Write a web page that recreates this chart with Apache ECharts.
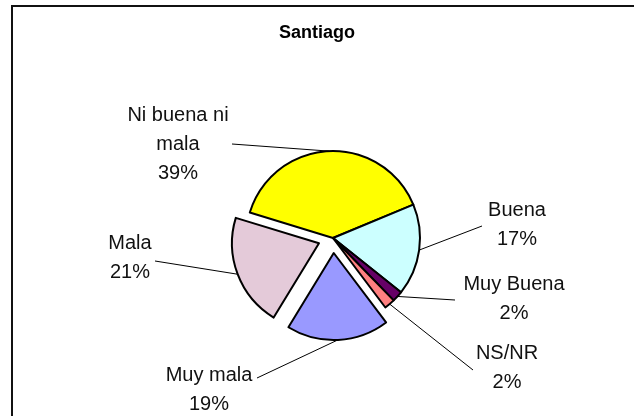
<!DOCTYPE html>
<html>
<head>
<meta charset="utf-8">
<script src="https://cdn.jsdelivr.net/npm/echarts@6/dist/echarts.min.js"></script>
<style>
  html, body { margin: 0; padding: 0; background: #fff; }
  #chart { width: 634px; height: 416px; }
</style>
</head>
<body>
<div id="chart"></div>
<script>
// data
const categories = ['Ni buena ni mala', 'Buena', 'Muy Buena', 'NS/NR', 'Muy mala', 'Mala']
const values = [39, 17, 2, 2, 19, 21]
const exploded = [false, false, false, false, true, true]

const colors = ['#FFFF00', '#CCFFFF', '#660066', '#FF8080', '#9999FF', '#E4CAD9']

// where Excel put each label and where its leader line ends
const labelSpots = [
  { x: 178, y: 144, line: [232, 144] },
  { x: 517, y: 225, line: [482, 226] },
  { x: 514, y: 299, line: [455, 300] },
  { x: 507, y: 368, line: [473, 370] },
  { x: 209, y: 390, line: [257, 378] },
  { x: 130, y: 258, line: [155, 261] }
]

const CX = 333
const CY = 238
const START = 163
const EXPLODE = 15

function wrapName(name) {
  if (name.length <= 12) return name
  const cut = name.lastIndexOf(' ', 11)
  return name.slice(0, cut) + '\n' + name.slice(cut + 1)
}

// centre of a pulled-out slice: shift along its middle angle
function shiftedCenter(idx) {
  const total = values.reduce((a, b) => a + b, 0)
  let before = 0
  for (let i = 0; i < idx; i++) before += values[i]
  const mid = (START - (before + values[idx] / 2) / total * 360) * Math.PI / 180
  return [CX + EXPLODE * Math.cos(mid), CY - EXPLODE * Math.sin(mid)]
}

// one pie per group: the unexploded slices together, each exploded slice on its own
function makePie(members, center) {
  return {
    type: 'pie',
    center: center,
    radius: 87,
    startAngle: START,
    clockwise: true,
    avoidLabelOverlap: false,
    emphasis: { disabled: true },
    label: {
      show: true,
      position: 'outside',
      fontFamily: 'Liberation Sans',
      fontSize: 20,
      lineHeight: 29,
      color: '#111',
      align: 'center',
      formatter: p => wrapName(p.name) + '\n' + p.value + '%'
    },
    labelLine: { show: true, lineStyle: { color: '#000', width: 1 } },
    labelLayout: p => {
      const s = labelSpots[p.dataIndex]
      const start = p.labelLinePoints ? p.labelLinePoints[0] : s.line
      return {
        x: s.x,
        y: s.y,
        align: 'center',
        verticalAlign: 'middle',
        labelLinePoints: [start, s.line]
      }
    },
    data: categories.map((name, i) => {
      const on = members.indexOf(i) >= 0
      return {
        name,
        value: values[i],
        itemStyle: on
          ? { color: colors[i], borderColor: '#000', borderWidth: 2 }
          : { color: 'rgba(0,0,0,0)', borderWidth: 0 },
        label: { show: on },
        labelLine: { show: on }
      }
    })
  }
}

const series = []
const still = []
values.forEach((v, i) => {
  if (!exploded[i]) still.push(i)
})
series.push(makePie(still, [CX, CY]))
values.forEach((v, i) => {
  if (exploded[i]) series.push(makePie([i], shiftedCenter(i)))
})

const chart = echarts.init(document.getElementById('chart'))
chart.setOption({
  animation: false,
  backgroundColor: '#fff',
  title: {
    text: 'Santiago',
    left: 'center',
    top: 19,
    textStyle: { fontFamily: 'Liberation Sans', fontSize: 18, fontWeight: 'bold', color: '#000' }
  },
  graphic: [
    {
      type: 'rect',
      shape: { x: 12, y: 6, width: 700, height: 500 },
      style: { fill: 'none', stroke: '#111', lineWidth: 2 },
      silent: true
    }
  ],
  series: series
})
</script>
</body>
</html>
